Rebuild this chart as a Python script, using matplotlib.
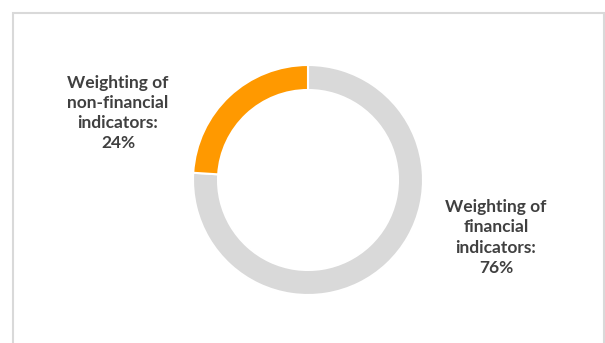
import matplotlib
matplotlib.use("Agg")
import matplotlib.pyplot as plt
import matplotlib.patches as patches

# share of each indicator group in the weighting
labels = ["Weighting of\nfinancial\nindicators:", "Weighting of\nnon-financial\nindicators:"]
shares = [76, 24]
colors = ["#D9D9D9", "#FF9900"]

W, H = 605, 343
fig = plt.figure(figsize=(W / 100, H / 100), dpi=100)
ax = fig.add_axes([0, 0, 1, 1])

# donut, starting at 12 o'clock and running clockwise
ax.pie(shares, colors=colors, startangle=90, counterclock=False,
       center=(308, H - 180), radius=115,
       wedgeprops=dict(width=25, edgecolor="white", linewidth=1.5))

ax.set_xlim(0, W)
ax.set_ylim(0, H)
ax.set_aspect("equal")
ax.axis("off")

# chart frame; the bottom edge falls below the image
ax.add_patch(patches.Rectangle((12.5, -10), 591.5, H - 12.5 + 10, fill=False,
                               edgecolor="#D9D9D9", linewidth=1.5))

txt = dict(ha="center", va="center", multialignment="center", fontsize=12.5,
           fontweight="bold", color="#404040", family="Lato", linespacing=1.33)
ax.text(496, H - 237.5, f"{labels[0]}\n{shares[0]}%", **txt)
ax.text(118, H - 113, f"{labels[1]}\n{shares[1]}%", **txt)

fig.savefig("out.png", dpi=100, facecolor="white")
